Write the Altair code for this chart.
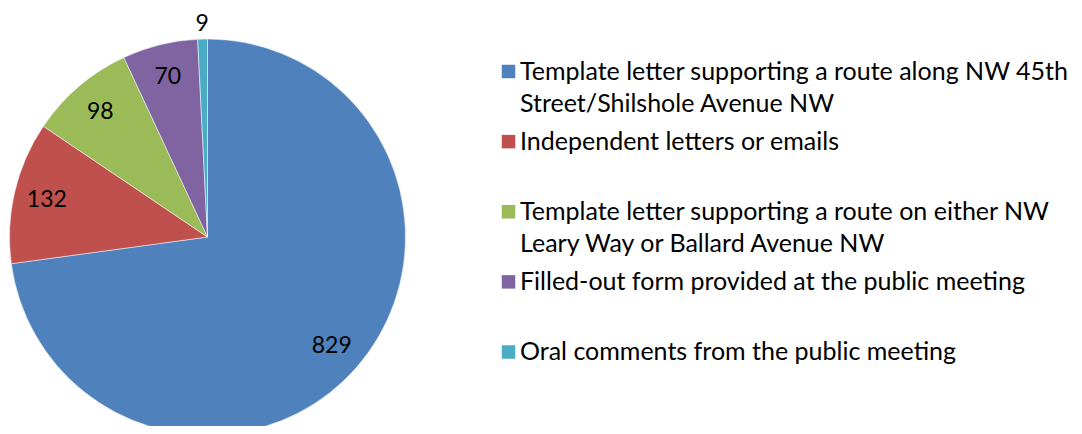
import altair as alt
import pandas as pd

categories = [
    "Template letter supporting a route along NW 45th\nStreet/Shilshole Avenue NW",
    "Independent letters or emails",
    "Template letter supporting a route on either NW\nLeary Way or Ballard Avenue NW",
    "Filled-out form provided at the public meeting",
    "Oral comments from the public meeting",
]
counts = [829, 132, 98, 70, 9]
colors = ["#4F81BD", "#C0504D", "#9BBB59", "#8064A2", "#4BACC6"]

df = pd.DataFrame({"cat": categories, "count": counts, "idx": list(range(len(counts)))})

FONT = "Lato"
CX, CY, R = 199.5, 229, 198

color_scale = alt.Scale(domain=categories, range=colors)

base = alt.Chart(df)

pie = base.mark_arc(radius=R, stroke="white", strokeWidth=0.5).encode(
    theta=alt.Theta("count:Q", stack=True),
    order=alt.Order("idx:Q"),
    color=alt.Color("cat:N", scale=color_scale, legend=None),
    x=alt.value(CX),
    y=alt.value(CY),
)

labels = base.transform_window(
    cum="sum(count)", sort=[alt.SortField("idx", order="ascending")]
).transform_joinaggregate(
    total="sum(count)"
).transform_calculate(
    mid="(datum.cum - datum.count / 2) / datum.total * 2 * PI",
    lr="datum.count < 20 ? 213 : 165",
).mark_text(font=FONT, fontSize=23, color="black", baseline="middle", align="center").encode(
    theta=alt.Theta("mid:Q", scale=None, stack=None),
    radius=alt.Radius("lr:Q", scale=None),
    text=alt.Text("count:Q"),
    x=alt.value(CX),
    y=alt.value(CY),
)

yscale = alt.Scale(type="point", domain=categories, range=[63.5, 344], padding=0)

squares = base.mark_square(size=182, opacity=1).encode(
    y=alt.Y("cat:N", scale=yscale, axis=None),
    x=alt.value(500.5),
    color=alt.Color("cat:N", scale=color_scale, legend=None),
)

legend_text = base.mark_text(
    font=FONT, fontSize=25, color="black", align="left", baseline="alphabetic",
    dy=8, lineBreak="\n", lineHeight=32.5,
).encode(
    y=alt.Y("cat:N", scale=yscale, axis=None),
    x=alt.value(512),
    text=alt.Text("cat:N"),
)

chart = alt.layer(pie, labels, squares, legend_text).properties(
    width=1066, height=418, padding=0, autosize=alt.AutoSizeParams(type="none")
).configure_view(stroke=None)

chart.save("out.html", embed_options={"renderer": "svg", "actions": False})
